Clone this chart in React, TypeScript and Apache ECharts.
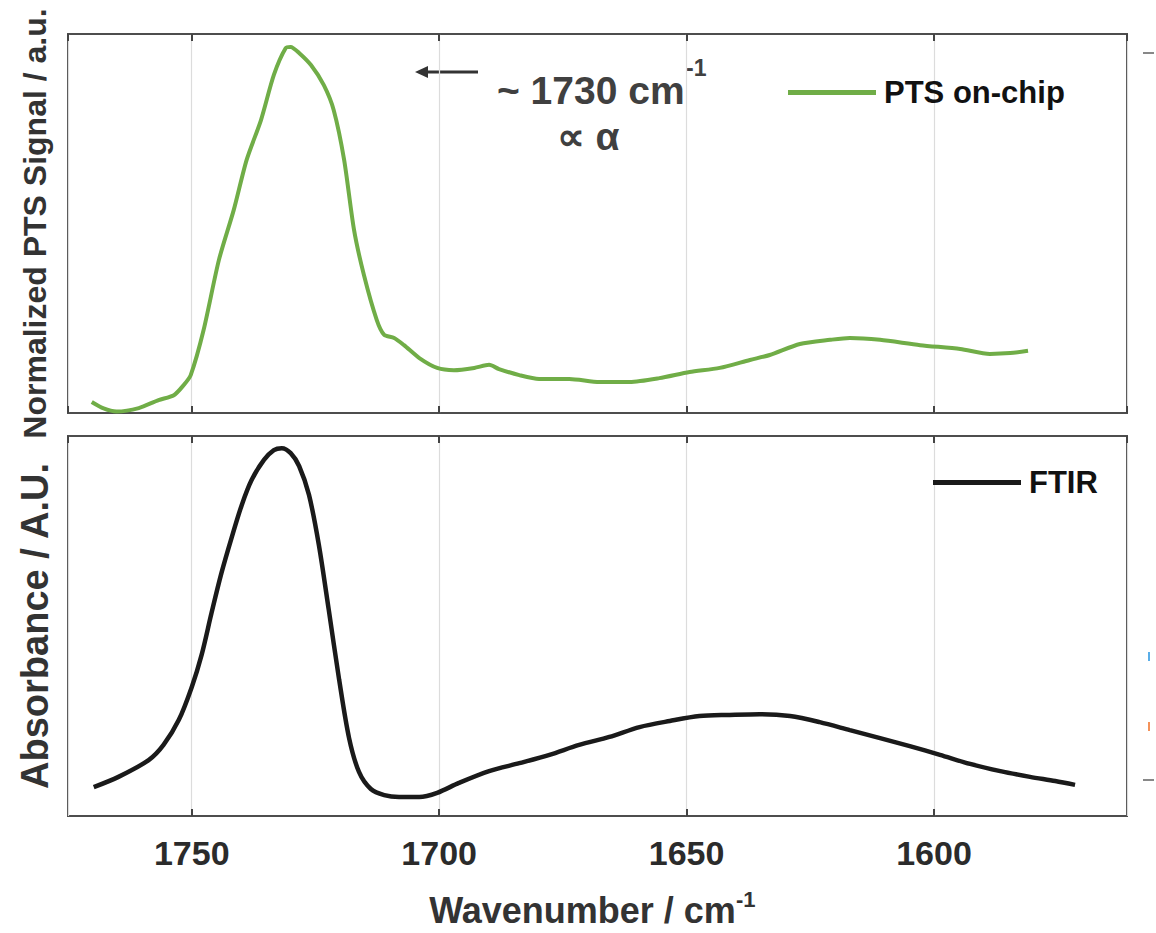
import React, { useEffect, useRef } from "react";
import * as echarts from "echarts";

// ---- Data ----
const ptsWavenumber = [1770.2, 1767.8, 1765.2, 1760.7, 1756.7, 1753.6, 1751.6, 1750.2, 1747.6, 1744.5, 1741.5, 1738.9, 1736.0, 1733.4, 1731.0, 1730.0, 1728.3, 1725.9, 1723.3, 1721.3, 1719.2, 1717.2, 1715.2, 1712.6, 1711.1, 1709.1, 1707.1, 1704.0, 1700.4, 1697.0, 1692.9, 1689.9, 1687.9, 1683.8, 1679.8, 1673.7, 1667.6, 1661.5, 1655.5, 1649.4, 1643.3, 1637.2, 1633.2, 1627.1, 1621.0, 1617.0, 1610.9, 1602.8, 1594.7, 1588.7, 1584.6, 1581.0];
const ptsSignal = [0.029, 0.012, 0.004, 0.013, 0.034, 0.047, 0.074, 0.100, 0.219, 0.404, 0.536, 0.668, 0.773, 0.892, 0.963, 0.966, 0.950, 0.918, 0.865, 0.799, 0.668, 0.483, 0.364, 0.245, 0.206, 0.198, 0.179, 0.145, 0.119, 0.113, 0.119, 0.127, 0.116, 0.100, 0.090, 0.090, 0.082, 0.082, 0.092, 0.108, 0.119, 0.140, 0.153, 0.182, 0.193, 0.198, 0.193, 0.179, 0.169, 0.156, 0.158, 0.164];

const ftirWavenumber = [1769.8, 1764.8, 1758.7, 1755.7, 1752.6, 1750.0, 1748.0, 1746.0, 1744.0, 1741.9, 1739.9, 1737.9, 1735.4, 1733.4, 1731.8, 1730.0, 1728.3, 1726.3, 1724.3, 1722.3, 1720.2, 1718.2, 1716.2, 1713.8, 1711.1, 1708.1, 1704.0, 1700.4, 1696.0, 1689.9, 1683.8, 1677.7, 1671.7, 1665.6, 1659.5, 1653.4, 1647.4, 1641.3, 1635.2, 1629.1, 1623.1, 1617.0, 1610.9, 1604.9, 1598.8, 1592.7, 1586.6, 1580.6, 1575.5, 1571.5];
const ftirAbsorbance = [0.076, 0.103, 0.147, 0.187, 0.253, 0.339, 0.424, 0.534, 0.639, 0.734, 0.818, 0.884, 0.937, 0.963, 0.968, 0.955, 0.921, 0.845, 0.713, 0.542, 0.358, 0.205, 0.116, 0.071, 0.055, 0.050, 0.050, 0.061, 0.087, 0.118, 0.139, 0.161, 0.187, 0.208, 0.234, 0.250, 0.263, 0.266, 0.268, 0.263, 0.247, 0.226, 0.205, 0.184, 0.161, 0.137, 0.118, 0.103, 0.092, 0.082];

const xMin = 1561;
const xMax = 1775;

const ptsName = "PTS on-chip";
const ftirName = "FTIR";
const topYName = "Normalized PTS Signal / a.u.";
const bottomYName = "Absorbance / A.U.";
const xName = "Wavenumber / cm";
const superscript = "-1";
const annotationLine1 = "~ 1730 cm";
const annotationLine2 = "∝ α";

const FONT = "'Liberation Sans', Arial, Helvetica, sans-serif";

export default function App() {
  const ref = useRef<HTMLDivElement>(null);

  useEffect(() => {
    document.body.style.margin = "0";
    const chart = echarts.init(ref.current!, null, { renderer: "svg" });

    const tickStyle = { inside: true, length: 7, lineStyle: { color: "#444", width: 2 } };
    const baseX = {
      type: "value" as const,
      min: xMin,
      max: xMax,
      inverse: true,
      axisLine: { show: false },
      axisTick: tickStyle,
      axisLabel: { show: false },
      splitLine: { show: false },
    };

    const legendText = { fontSize: 31, fontWeight: "bold", color: "#111", fontFamily: FONT, padding: [0, 0, 0, 3] };

    const option: any = {
      animation: false,
      backgroundColor: "#ffffff",
      grid: [
        { left: 68, top: 34, width: 1059, height: 379, show: true, borderColor: "#4d4d4d", borderWidth: 2, backgroundColor: "transparent" },
        { left: 68, top: 436, width: 1059, height: 380, show: true, borderColor: "#4d4d4d", borderWidth: 2, backgroundColor: "transparent" },
      ],
      xAxis: [
        { ...baseX, gridIndex: 0, position: "bottom", splitLine: { show: true, lineStyle: { color: "#dcdcdc", width: 1.2 } } },
        { ...baseX, gridIndex: 0, position: "top" },
        {
          ...baseX,
          gridIndex: 1,
          position: "bottom",
          splitLine: { show: true, lineStyle: { color: "#dcdcdc", width: 1.2 } },
          axisLabel: {
            show: true,
            showMinLabel: false,
            showMaxLabel: false,
            margin: 20,
            fontSize: 34,
            fontWeight: "bold",
            color: "#2b2b2b",
            fontFamily: FONT,
            formatter: (v: number) => String(v),
          },
          name: xName,
          nameLocation: "middle",
          nameGap: 76,
          nameTextStyle: { fontSize: 36, fontWeight: "bold", color: "#333", fontFamily: FONT, padding: [0, 30, 0, 0] },
        },
        { ...baseX, gridIndex: 1, position: "top" },
      ],
      yAxis: [
        {
          type: "value",
          gridIndex: 0,
          min: 0,
          max: 1,
          axisLine: { show: false },
          axisTick: { show: false },
          axisLabel: { show: false },
          splitLine: { show: false },
          name: topYName,
          nameLocation: "middle",
          nameGap: 17,
          nameTextStyle: { fontSize: 32, fontWeight: "bold", color: "#333", fontFamily: FONT },
        },
        {
          type: "value",
          gridIndex: 1,
          min: 0,
          max: 1,
          axisLine: { show: false },
          axisTick: { show: false },
          axisLabel: { show: false },
          splitLine: { show: false },
          name: bottomYName,
          nameLocation: "middle",
          nameGap: 14,
          nameTextStyle: { fontSize: 38, fontWeight: "bold", color: "#333", fontFamily: FONT },
        },
      ],
      legend: [
        {
          data: [ptsName],
          left: 788,
          top: 77,
          padding: 0,
          icon: "rect",
          itemWidth: 88,
          itemHeight: 5,
          textStyle: legendText,
        },
        {
          data: [ftirName],
          left: 933,
          top: 467,
          padding: 0,
          icon: "rect",
          itemWidth: 88,
          itemHeight: 5,
          textStyle: legendText,
        },
      ],
      series: [
        {
          name: ptsName,
          type: "line",
          xAxisIndex: 0,
          yAxisIndex: 0,
          data: ptsWavenumber.map((w, i) => [w, ptsSignal[i]]),
          showSymbol: false,
          smooth: 0.25,
          color: "#70ad47",
          lineStyle: { color: "#70ad47", width: 4 },
        },
        {
          name: ftirName,
          type: "line",
          xAxisIndex: 2,
          yAxisIndex: 1,
          data: ftirWavenumber.map((w, i) => [w, ftirAbsorbance[i]]),
          showSymbol: false,
          smooth: 0.3,
          color: "#1a1a1a",
          lineStyle: { color: "#1a1a1a", width: 4.5 },
        },
      ],
      graphic: [
        { type: "line", shape: { x1: 478, y1: 72, x2: 424, y2: 72 }, style: { stroke: "#333", lineWidth: 3 } },
        { type: "polygon", shape: { points: [[415, 72], [428, 66], [428, 78]] }, style: { fill: "#333" } },
        {
          type: "text",
          x: 497,
          y: 90,
          style: { text: annotationLine1, fontSize: 39, fontWeight: "bold", fontFamily: FONT, fill: "#404040", align: "left", verticalAlign: "middle", textAlign: "left", textVerticalAlign: "middle" },
        },
        {
          type: "text",
          x: 686,
          y: 68,
          style: { text: superscript, fontSize: 23, fontWeight: "bold", fontFamily: FONT, fill: "#404040", align: "left", verticalAlign: "middle", textAlign: "left", textVerticalAlign: "middle" },
        },
        {
          type: "text",
          x: 588,
          y: 136,
          style: { text: annotationLine2, fontSize: 39, fontWeight: "bold", fontFamily: FONT, fill: "#404040", align: "center", verticalAlign: "middle", textAlign: "center", textVerticalAlign: "middle" },
        },
        {
          type: "text",
          x: 736,
          y: 899,
          style: { text: superscript, fontSize: 22, fontWeight: "bold", fontFamily: FONT, fill: "#333", align: "left", verticalAlign: "middle", textAlign: "left", textVerticalAlign: "middle" },
        },
        { type: "line", shape: { x1: 1143, y1: 53, x2: 1154, y2: 53 }, style: { stroke: "#888", lineWidth: 2 } },
        { type: "line", shape: { x1: 1143, y1: 780, x2: 1154, y2: 780 }, style: { stroke: "#888", lineWidth: 2 } },
        { type: "rect", shape: { x: 1148, y: 652, width: 2, height: 9 }, style: { fill: "#5aaee8" } },
        { type: "rect", shape: { x: 1148, y: 722, width: 2, height: 9 }, style: { fill: "#f4925a" } },
      ],
    };

    chart.setOption(option);
    return () => chart.dispose();
  }, []);

  return <div ref={ref} style={{ width: 1156, height: 933, background: "#fff" }} />;
}
